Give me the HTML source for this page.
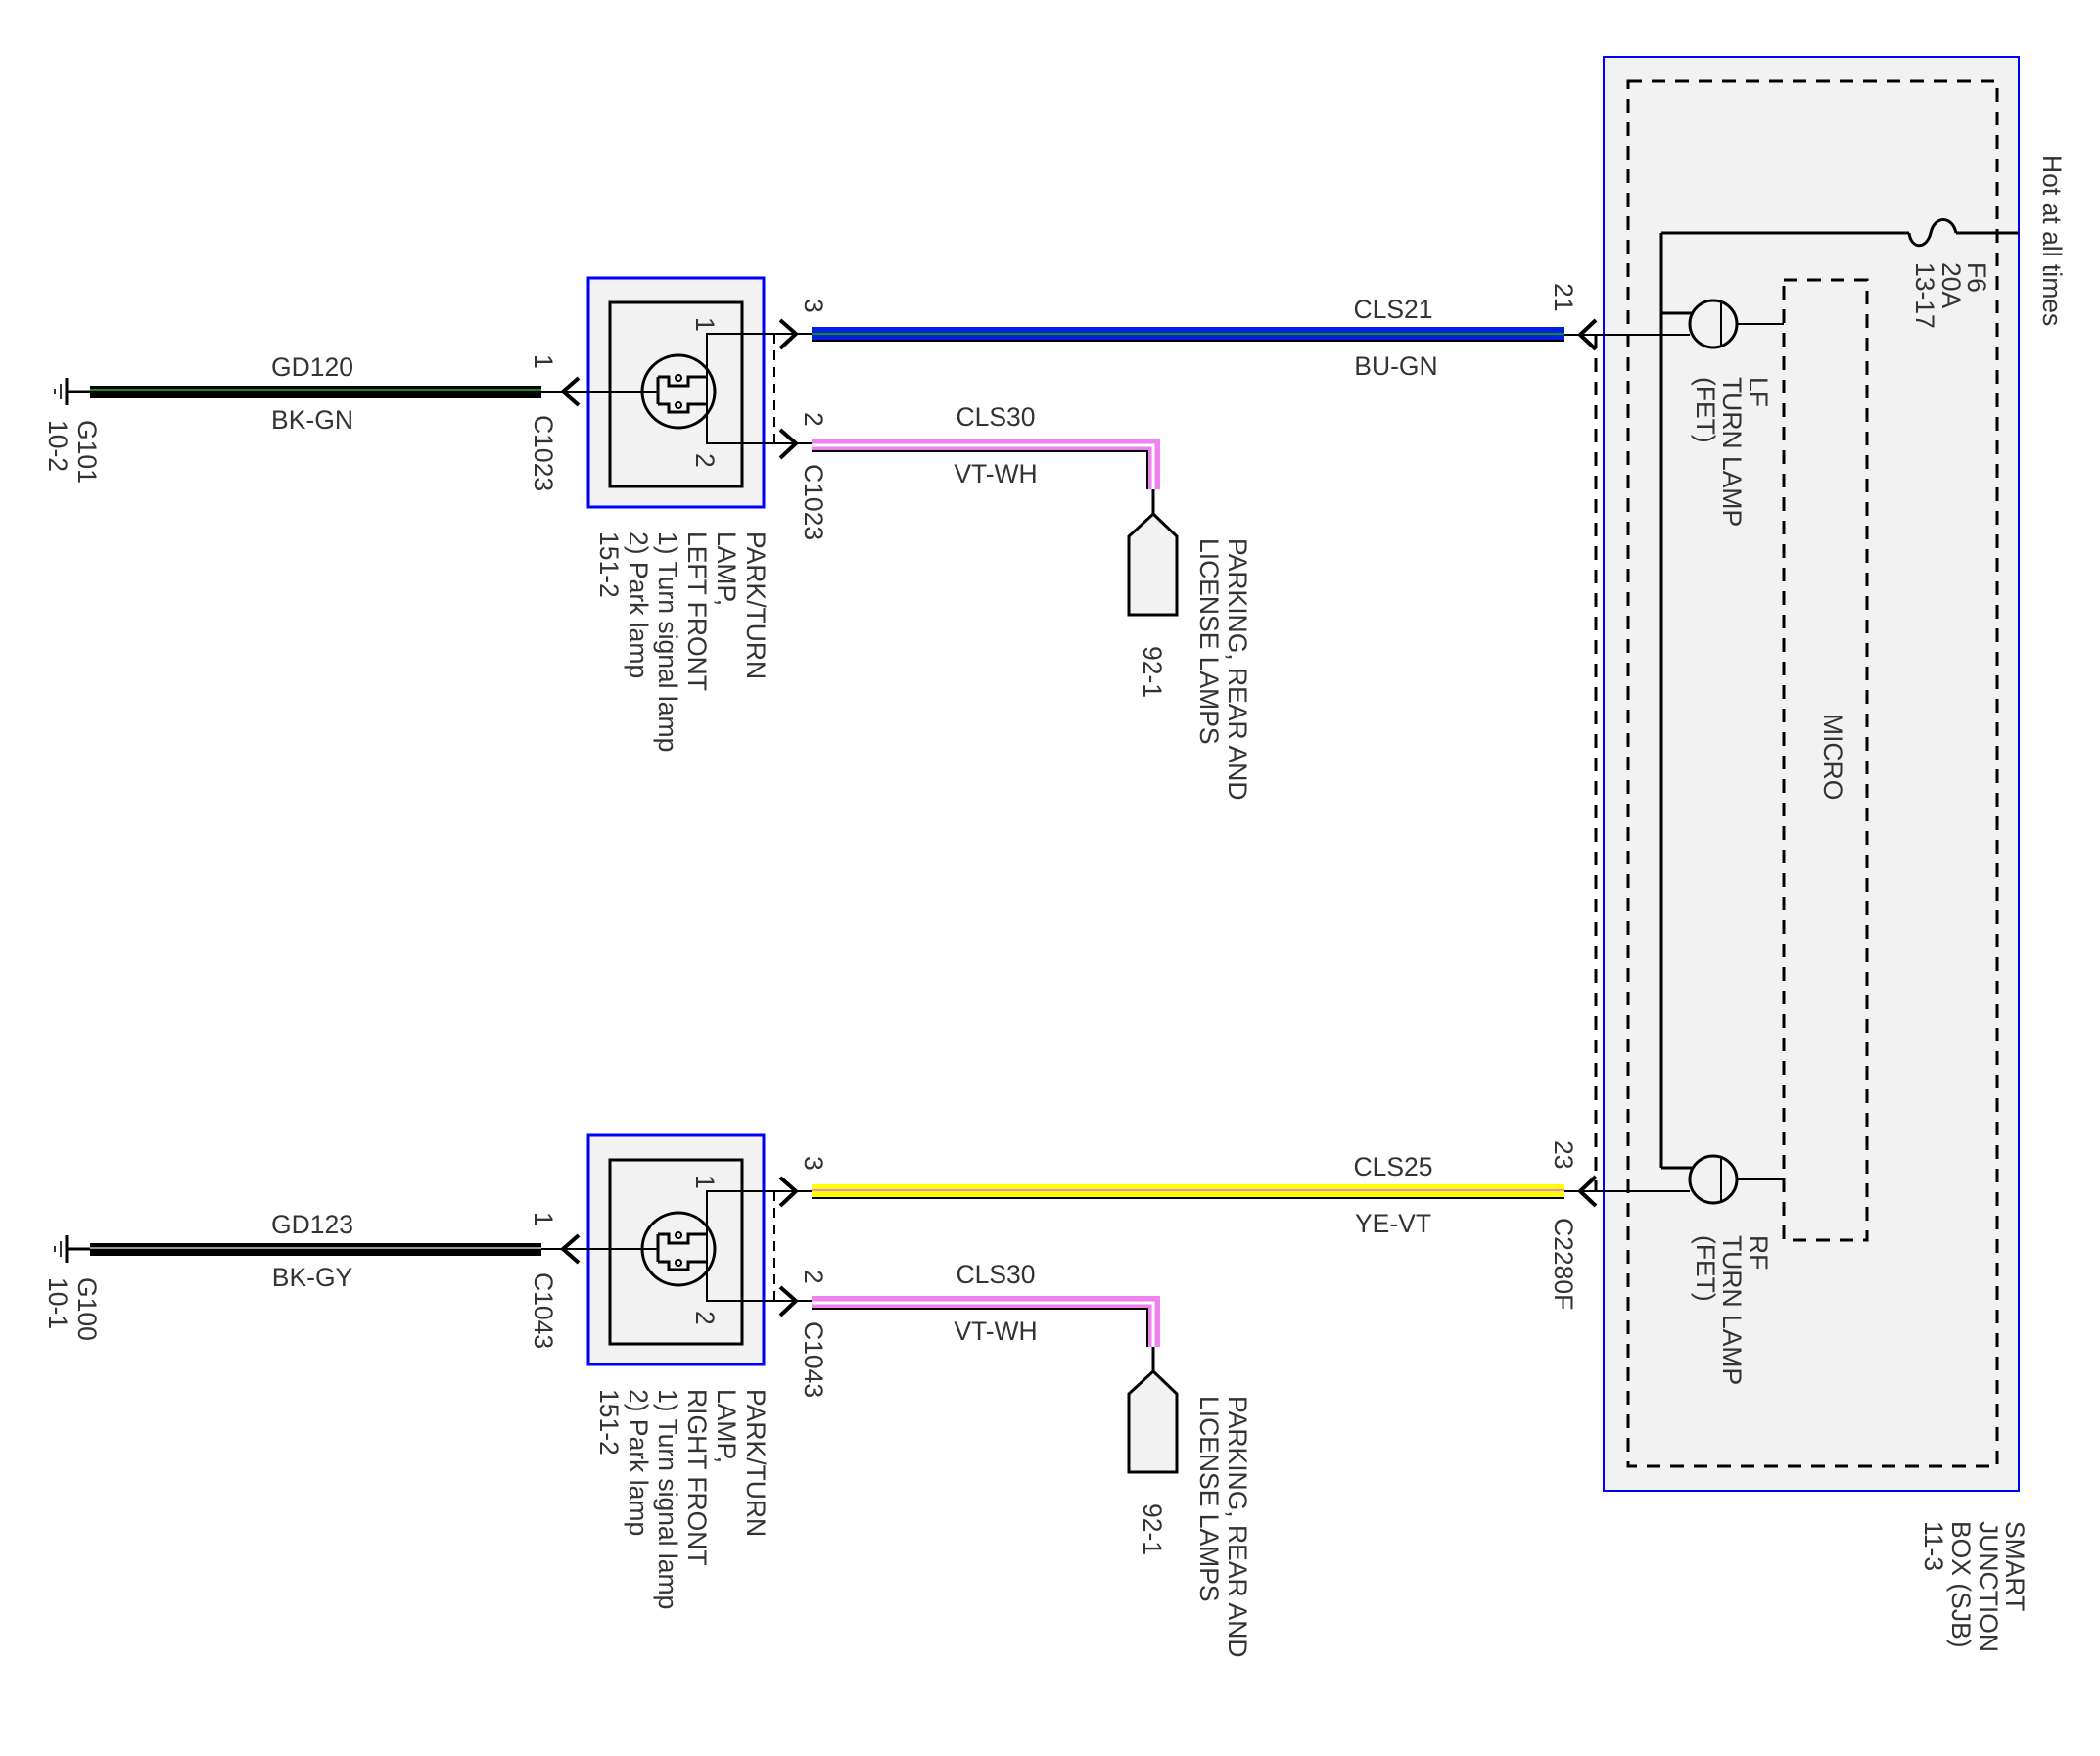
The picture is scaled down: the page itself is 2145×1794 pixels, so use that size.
<!DOCTYPE html>
<html><head><meta charset="utf-8"><style>
html,body{margin:0;padding:0;background:#fff}
svg{display:block}
text{font-family:"Liberation Sans",sans-serif;font-size:26.5px;fill:#333}
</style></head><body>
<svg width="2145" height="1794" viewBox="0 0 2145 1794" xmlns="http://www.w3.org/2000/svg">
<defs>
<g id="lamp">
  <line x1="68" y1="386" x2="68" y2="414" stroke="#000" stroke-width="3"/>
  <line x1="62" y1="392" x2="62" y2="408" stroke="#333" stroke-width="2"/>
  <line x1="56" y1="397" x2="56" y2="403" stroke="#333" stroke-width="2"/>
  <line x1="68" y1="400" x2="92" y2="400" stroke="#000" stroke-width="3"/>
  <rect x="601" y="284" width="179" height="234" fill="#f2f2f2" stroke="#0000ff" stroke-width="3"/>
  <rect x="623" y="309" width="135" height="188" fill="none" stroke="#000" stroke-width="3"/>
  <line x1="553" y1="400" x2="672" y2="400" stroke="#000" stroke-width="2"/>
  <circle cx="693" cy="400" r="37" fill="none" stroke="#000" stroke-width="3"/>
  <path d="M672 385 V413 M672 385 H683 V394 H703 V385 H722 M672 413 H683 V421 H703 V413 H722" fill="none" stroke="#000" stroke-width="3"/>
  <circle cx="693" cy="386" r="3" fill="none" stroke="#000" stroke-width="2"/>
  <circle cx="693" cy="414" r="3" fill="none" stroke="#000" stroke-width="2"/>
  <polyline points="813,341 722,341 722,453 813,453" fill="none" stroke="#000" stroke-width="2"/>
  <line x1="791" y1="341" x2="791" y2="453" stroke="#000" stroke-width="2" stroke-dasharray="10,7"/>
  <path d="M797 327 L813 341 L797 356" fill="none" stroke="#000" stroke-width="4"/>
  <path d="M797 439 L813 453 L797 468" fill="none" stroke="#000" stroke-width="4"/>
  <path d="M591 386 L575 400 L591 414" fill="none" stroke="#000" stroke-width="4"/>
  <line x1="813" y1="341" x2="829" y2="341" stroke="#000" stroke-width="2"/>
  <line x1="813" y1="453" x2="829" y2="453" stroke="#000" stroke-width="2"/>
  <polyline points="829,455 1178,455 1178,500" fill="none" stroke="#ee82ee" stroke-width="14"/>
  <polyline points="829,455 1178,455 1178,500" fill="none" stroke="#fff" stroke-width="3"/>
  <polyline points="829,461 1172,461 1172,500" fill="none" stroke="#000" stroke-width="2"/>
  <line x1="1178" y1="500" x2="1178" y2="525" stroke="#000" stroke-width="3"/>
  <polygon points="1178,525 1202,548 1202,628 1153,628 1153,548" fill="#f2f2f2" stroke="#000" stroke-width="3"/>
  <text x="1017" y="435" text-anchor="middle">CLS30</text>
  <text x="1017" y="493" text-anchor="middle">VT-WH</text>
  <text transform="translate(546,362) rotate(90)">1</text>
  <text transform="translate(822,305) rotate(90)">3</text>
  <text transform="translate(822,421) rotate(90)">2</text>
  <text transform="translate(1255,550) rotate(90)">PARKING, REAR AND</text>
  <text transform="translate(1226,550) rotate(90)">LICENSE LAMPS</text>
  <text transform="translate(1168,660) rotate(90)">92-1</text>
  <text transform="translate(763,543) rotate(90)">PARK/TURN</text>
  <text transform="translate(733,543) rotate(90)">LAMP,</text>
  <text transform="translate(673,543) rotate(90)">1) Turn signal lamp</text>
  <text transform="translate(643,543) rotate(90)">2) Park lamp</text>
  <text transform="translate(613,543) rotate(90)">151-2</text>
  <text transform="translate(711,324) rotate(90)" font-size="22">1</text>
  <text transform="translate(711,463) rotate(90)" font-size="22">2</text>
</g>
</defs>

<rect x="1638" y="58" width="424" height="1465" fill="#f2f2f2" stroke="#0000ff" stroke-width="2"/>
<rect x="1663" y="83" width="377" height="1415" fill="none" stroke="#000" stroke-width="3" stroke-dasharray="14,10"/>
<rect x="1822" y="286" width="85" height="981" fill="none" stroke="#000" stroke-width="3" stroke-dasharray="14,10"/>
<text transform="translate(1863,729) rotate(90)">MICRO</text>
<line x1="1697" y1="238" x2="1697" y2="1193" stroke="#000" stroke-width="3"/>
<line x1="1697" y1="238" x2="1950" y2="238" stroke="#000" stroke-width="3"/>
<path d="M1950 238 C1952 255 1968 255 1972 238 C1976 220 1994 220 1998 238" fill="none" stroke="#000" stroke-width="3"/>
<line x1="1998" y1="238" x2="2062" y2="238" stroke="#000" stroke-width="3"/>
<text transform="translate(2087,158) rotate(90)">Hot at all times</text>
<text transform="translate(2010,268) rotate(90)">F6</text>
<text transform="translate(1984,268) rotate(90)">20A</text>
<text transform="translate(1957,268) rotate(90)">13-17</text>
<line x1="1697" y1="320" x2="1730" y2="320" stroke="#000" stroke-width="3"/>
<circle cx="1750" cy="331" r="24" fill="none" stroke="#000" stroke-width="3"/>
<line x1="1758" y1="307" x2="1758" y2="355" stroke="#000" stroke-width="2"/>
<line x1="1774" y1="331" x2="1822" y2="331" stroke="#000" stroke-width="2"/>
<line x1="1598" y1="342" x2="1726" y2="342" stroke="#000" stroke-width="2"/>
<path d="M1630 327 L1614 342 L1630 357" fill="none" stroke="#000" stroke-width="4"/>
<text transform="translate(1787,385) rotate(90)">LF</text>
<text transform="translate(1760,385) rotate(90)">TURN LAMP</text>
<text transform="translate(1733,385) rotate(90)">(FET)</text>
<line x1="1697" y1="1193" x2="1730" y2="1193" stroke="#000" stroke-width="3"/>
<circle cx="1750" cy="1205" r="24" fill="none" stroke="#000" stroke-width="3"/>
<line x1="1758" y1="1181" x2="1758" y2="1229" stroke="#000" stroke-width="2"/>
<line x1="1774" y1="1205" x2="1822" y2="1205" stroke="#000" stroke-width="2"/>
<line x1="1598" y1="1217" x2="1726" y2="1217" stroke="#000" stroke-width="2"/>
<path d="M1630 1202 L1614 1217 L1630 1232" fill="none" stroke="#000" stroke-width="4"/>
<text transform="translate(1787,1262) rotate(90)">RF</text>
<text transform="translate(1760,1262) rotate(90)">TURN LAMP</text>
<text transform="translate(1733,1262) rotate(90)">(FET)</text>
<line x1="1630" y1="342" x2="1630" y2="1217" stroke="#000" stroke-width="3" stroke-dasharray="14,10"/>
<text transform="translate(2049,1554) rotate(90)">SMART</text>
<text transform="translate(2022,1554) rotate(90)">JUNCTION</text>
<text transform="translate(1994,1554) rotate(90)">BOX (SJB)</text>
<text transform="translate(1966,1554) rotate(90)">11-3</text>

<use href="#lamp"/>
<rect x="92" y="394" width="461" height="13" fill="#000"/>
<line x1="92" y1="398" x2="553" y2="398" stroke="#1a8a1a" stroke-width="2"/>
<rect x="829" y="334" width="769" height="15" fill="#0020e0"/>
<line x1="829" y1="341" x2="1598" y2="341" stroke="#1a8a1a" stroke-width="2"/>
<line x1="829" y1="348" x2="1598" y2="348" stroke="#000" stroke-width="2"/>
<text x="319" y="384" text-anchor="middle">GD120</text>
<text x="319" y="438" text-anchor="middle">BK-GN</text>
<text x="1423" y="325" text-anchor="middle">CLS21</text>
<text x="1426" y="383" text-anchor="middle">BU-GN</text>
<text transform="translate(1588,289) rotate(90)">21</text>
<text transform="translate(546,424) rotate(90)">C1023</text>
<text transform="translate(822,474) rotate(90)">C1023</text>
<text transform="translate(80,429) rotate(90)">G101</text>
<text transform="translate(50,429) rotate(90)">10-2</text>
<text transform="translate(703,543) rotate(90)">LEFT FRONT</text>

<g transform="translate(0,876)"><use href="#lamp"/></g>
<rect x="92" y="1270" width="461" height="13" fill="#000"/>
<line x1="92" y1="1275" x2="553" y2="1275" stroke="#999" stroke-width="2"/>
<rect x="829" y="1210" width="769" height="15" fill="#ffff00"/>
<line x1="829" y1="1216" x2="1598" y2="1216" stroke="#ee82ee" stroke-width="2"/>
<line x1="829" y1="1224" x2="1598" y2="1224" stroke="#000" stroke-width="2"/>
<text x="319" y="1260" text-anchor="middle">GD123</text>
<text x="319" y="1314" text-anchor="middle">BK-GY</text>
<text x="1423" y="1201" text-anchor="middle">CLS25</text>
<text x="1423" y="1259" text-anchor="middle">YE-VT</text>
<text transform="translate(1588,1165) rotate(90)">23</text>
<text transform="translate(1588,1244) rotate(90)">C2280F</text>
<text transform="translate(546,1300) rotate(90)">C1043</text>
<text transform="translate(822,1350) rotate(90)">C1043</text>
<text transform="translate(80,1305) rotate(90)">G100</text>
<text transform="translate(50,1305) rotate(90)">10-1</text>
<text transform="translate(703,1419) rotate(90)">RIGHT FRONT</text>
</svg>
</body></html>
